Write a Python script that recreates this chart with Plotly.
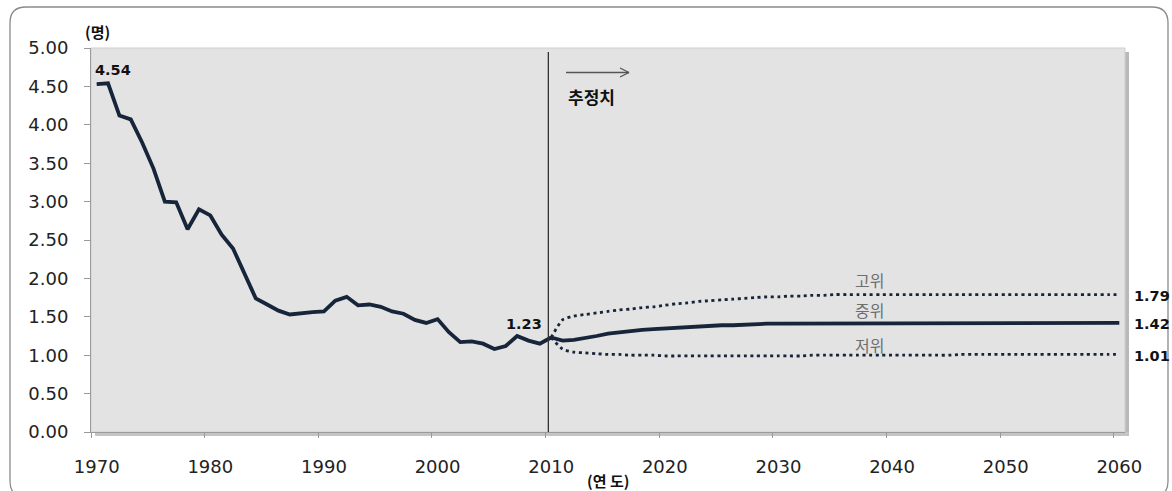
import plotly.graph_objects as go

# ---------------- data ----------------
hist_years = list(range(1970, 2011))
hist_tfr = [4.53, 4.54, 4.12, 4.07, 3.77, 3.43, 3.00, 2.99, 2.64, 2.90,
            2.82, 2.57, 2.39, 2.06, 1.74, 1.66, 1.58, 1.53, 1.55, 1.56,
            1.57, 1.71, 1.76, 1.65, 1.66, 1.63, 1.57, 1.54, 1.46, 1.42,
            1.47, 1.30, 1.17, 1.18, 1.15, 1.08, 1.12, 1.25, 1.19, 1.15,
            1.23]

proj_years = list(range(2010, 2061))
proj_mid = [1.23, 1.19, 1.20, 1.22, 1.25, 1.28, 1.30, 1.32, 1.33, 1.34,
            1.35, 1.36, 1.37, 1.38, 1.38, 1.39, 1.39, 1.40, 1.40, 1.41,
            1.41, 1.41, 1.41, 1.42, 1.42, 1.42, 1.42, 1.42, 1.42, 1.42,
            1.42, 1.42, 1.42, 1.42, 1.42, 1.42, 1.42, 1.42, 1.42, 1.42,
            1.42, 1.42, 1.42, 1.42, 1.42, 1.42, 1.42, 1.42, 1.42, 1.42,
            1.42]
proj_high = [1.23, 1.46, 1.51, 1.53, 1.55, 1.57, 1.59, 1.60, 1.62, 1.63,
             1.65, 1.67, 1.68, 1.70, 1.71, 1.72, 1.73, 1.74, 1.75, 1.76,
             1.76, 1.77, 1.77, 1.78, 1.78, 1.79, 1.79, 1.79, 1.79, 1.79,
             1.79, 1.79, 1.79, 1.79, 1.79, 1.79, 1.79, 1.79, 1.79, 1.79,
             1.79, 1.79, 1.79, 1.79, 1.79, 1.79, 1.79, 1.79, 1.79, 1.79,
             1.79]
proj_low = [1.23, 1.08, 1.04, 1.03, 1.02, 1.01, 1.01, 1.00, 1.00, 1.00,
            0.99, 0.99, 0.99, 0.99, 0.99, 0.99, 0.99, 0.99, 0.99, 0.99,
            0.99, 0.99, 0.99, 1.00, 1.00, 1.00, 1.00, 1.00, 1.00, 1.00,
            1.00, 1.00, 1.00, 1.00, 1.00, 1.00, 1.01, 1.01, 1.01, 1.01,
            1.01, 1.01, 1.01, 1.01, 1.01, 1.01, 1.01, 1.01, 1.01, 1.01,
            1.01]

x_tick_vals = list(range(1970, 2061, 10))
x_tick_text = [str(v) for v in x_tick_vals]
y_tick_vals = [i * 0.5 for i in range(11)]

scenario_names = ["고위", "중위", "저위"]
y_unit = "(명)"
x_unit = "(연 도)"
proj_label = "추정치"
proj_start = 2009.75

# ---------------- layout helpers ----------------
W, H = 1172, 491
L, R, T, B = 91, 1125, 48, 432


def px(p):
    return (p - L) / (R - L)


def py(p):
    return (B - p) / (B - T)


NAVY = "#17253a"
FONT = "DejaVu Sans"
KFONT = "Noto Sans CJK KR"

fig = go.Figure()

fig.add_trace(go.Scatter(x=hist_years, y=hist_tfr, mode="lines",
                         line=dict(color=NAVY, width=3.8), hoverinfo="skip",
                         showlegend=False))
fig.add_trace(go.Scatter(x=proj_years, y=proj_high, mode="lines",
                         line=dict(color=NAVY, width=2.8, dash="3px,3.6px",
                                   shape="spline", smoothing=0.6),
                         hoverinfo="skip", showlegend=False))
fig.add_trace(go.Scatter(x=proj_years, y=proj_low, mode="lines",
                         line=dict(color=NAVY, width=2.8, dash="3px,3.6px",
                                   shape="spline", smoothing=0.6),
                         hoverinfo="skip", showlegend=False))
fig.add_trace(go.Scatter(x=proj_years, y=proj_mid, mode="lines",
                         line=dict(color=NAVY, width=3.8), hoverinfo="skip",
                         showlegend=False))

shapes = []
# outer rounded frame
fx0, fy0, fx1, fy1, rr = 10, 7, 1168, 497, 16
path = (f"M {px(fx0 + rr)} {py(fy0)} L {px(fx1 - rr)} {py(fy0)} "
        f"Q {px(fx1)} {py(fy0)} {px(fx1)} {py(fy0 + rr)} "
        f"L {px(fx1)} {py(fy1 - rr)} Q {px(fx1)} {py(fy1)} {px(fx1 - rr)} {py(fy1)} "
        f"L {px(fx0 + rr)} {py(fy1)} Q {px(fx0)} {py(fy1)} {px(fx0)} {py(fy1 - rr)} "
        f"L {px(fx0)} {py(fy0 + rr)} Q {px(fx0)} {py(fy0)} {px(fx0 + rr)} {py(fy0)} Z")
shapes.append(dict(type="path", xref="paper", yref="paper", path=path,
                   line=dict(color="#8a8a8a", width=1.3), layer="below"))
# plot-area shadow
shapes.append(dict(type="rect", xref="paper", yref="paper",
                   x0=px(R), x1=px(R + 4), y0=py(B + 4), y1=py(T + 4),
                   fillcolor="#b9b9b9", line=dict(width=0), layer="below"))
shapes.append(dict(type="rect", xref="paper", yref="paper",
                   x0=px(L + 4), x1=px(R + 4), y0=py(B + 4), y1=py(B),
                   fillcolor="#c4c4c4", line=dict(width=0), layer="below"))
shapes.append(dict(type="rect", xref="paper", yref="paper",
                   x0=0, x1=1, y0=0, y1=1, fillcolor="#e3e3e3",
                   line=dict(color="#cfcfcf", width=1), layer="below"))
# projection start line
shapes.append(dict(type="line", xref="x", yref="paper", x0=proj_start,
                   x1=proj_start, y0=0, y1=py(52),
                   line=dict(color="#333333", width=1.3)))
# arrow
ax0, ax1, ay = 566, 629, 72.5
shapes.append(dict(type="line", xref="paper", yref="paper", x0=px(ax0), x1=px(ax1),
                   y0=py(ay), y1=py(ay), line=dict(color="#555555", width=1.3)))
shapes.append(dict(type="line", xref="paper", yref="paper", x0=px(ax1 - 9), x1=px(ax1),
                   y0=py(ay - 4.5), y1=py(ay), line=dict(color="#555555", width=1.3)))
shapes.append(dict(type="line", xref="paper", yref="paper", x0=px(ax1 - 9), x1=px(ax1),
                   y0=py(ay + 4.5), y1=py(ay), line=dict(color="#555555", width=1.3)))

ann = []
bold = dict(family=FONT, size=14.5, color="#111111")
ann.append(dict(x=hist_years[1], y=hist_tfr[1], xref="x", yref="y",
                text=f"<b>{hist_tfr[1]:.2f}</b>", showarrow=False, font=bold,
                xanchor="center", yanchor="middle", xshift=5, yshift=13))
ann.append(dict(x=hist_years[-1], y=hist_tfr[-1], xref="x", yref="y",
                text=f"<b>{hist_tfr[-1]:.2f}</b>", showarrow=False, font=bold,
                xanchor="center", yanchor="middle", xshift=-27, yshift=14))
for vals, ys in ((proj_high, -1), (proj_mid, -1), (proj_low, -1.5)):
    ann.append(dict(x=proj_years[-1], y=vals[-1], xref="x", yref="y",
                    text=f"<b>{vals[-1]:.2f}</b>", showarrow=False, font=bold,
                    xanchor="left", yanchor="middle", xshift=13, yshift=ys))
for name, vals, ys in zip(scenario_names, (proj_high, proj_mid, proj_low),
                          (13, 11, 7)):
    ann.append(dict(x=2038, y=vals[-1], xref="x", yref="y", text=name,
                    showarrow=False, xanchor="center", yanchor="bottom",
                    yshift=ys - 12,
                    font=dict(family=KFONT, size=16, color="#6e6e6e")))
ann.append(dict(x=px(97), y=py(32), xref="paper", yref="paper",
                text=f"<b>{y_unit}</b>", showarrow=False,
                xanchor="center", yanchor="middle",
                font=dict(family=KFONT, size=15, color="#111111")))
ann.append(dict(x=px(608), y=py(480), xref="paper", yref="paper",
                text=f"<b>{x_unit}</b>", showarrow=False,
                xanchor="center", yanchor="middle",
                font=dict(family=KFONT, size=15, color="#111111")))
ann.append(dict(x=px(591), y=py(96), xref="paper", yref="paper",
                text=f"<b>{proj_label}</b>", showarrow=False,
                xanchor="center", yanchor="middle",
                font=dict(family=KFONT, size=17, color="#111111")))

fig.update_layout(
    width=W, height=H,
    margin=dict(l=L, r=W - R, t=T, b=H - B, pad=0),
    paper_bgcolor="white", plot_bgcolor="rgba(0,0,0,0)",
    shapes=shapes, annotations=ann, showlegend=False,
    font=dict(family=FONT, size=18, color="#222222"),
)
fig.update_xaxes(range=[1969.5, 2060.5], tickvals=x_tick_vals, ticktext=x_tick_text,
                 ticks="", showgrid=False, zeroline=False,
                 showline=True, linecolor="#9a9a9a", linewidth=1,
                 ticklabelstandoff=18,
                 minor=dict(ticks="outside", tick0=1969.5, dtick=10, ticklen=5,
                            tickcolor="#9a9a9a", showgrid=False),
                 tickfont=dict(family=FONT, size=18, color="#222222"))
fig.update_yaxes(range=[0, 5], tickvals=y_tick_vals, tickformat=".2f",
                 ticks="outside", ticklen=6, tickcolor="#9a9a9a",
                 showgrid=False, zeroline=False, showline=True,
                 linecolor="#9a9a9a", linewidth=1, ticklabelstandoff=12,
                 tickfont=dict(family=FONT, size=18, color="#222222"))

fig.write_html("out.html", config={"displayModeBar": False},
               post_script="document.body.style.margin='0';document.body.style.overflow='hidden';")
